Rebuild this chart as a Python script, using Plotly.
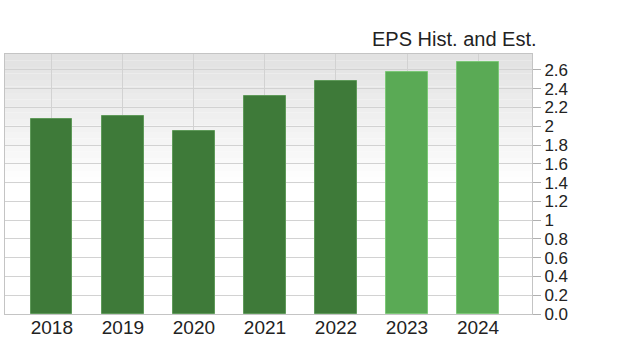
import plotly.graph_objects as go

years = ["2018", "2019", "2020", "2021", "2022", "2023", "2024"]
eps = [2.08, 2.11, 1.95, 2.32, 2.48, 2.58, 2.69]
kind = ["hist", "hist", "hist", "hist", "hist", "est", "est"]
ytick_vals = [0, 0.2, 0.4, 0.6, 0.8, 1.0, 1.2, 1.4, 1.6, 1.8, 2.0, 2.2, 2.4, 2.6]
ytick_text = ["0.0", "0.2", "0.4", "0.6", "0.8", "1", "1.2", "1.4", "1.6", "1.8", "2", "2.2", "2.4", "2.6"]
title_text = "EPS Hist. and Est."

fill_col = {"hist": "#3e7a39", "est": "#5aaa55"}
edge_col = {"hist": "#5f9a5a", "est": "#7cc877"}

fig = go.Figure()
fig.add_trace(go.Bar(
    x=list(range(len(years))), y=eps,
    width=0.58,
    marker=dict(color=[fill_col[k] for k in kind],
                line=dict(color=[edge_col[k] for k in kind], width=1)),
    hoverinfo="skip",
))

# vertical gradient background (light grey at top -> white by ~45% down)
n = 40
shapes = []
for i in range(n):
    t = (i / (n - 1) - 0.5) / 0.5
    t = max(0.0, t)
    v = int(round(255 - (255 - 226) * t))
    shapes.append(dict(type="rect", xref="paper", yref="paper",
                       x0=0, x1=1, y0=i / n, y1=(i + 1) / n,
                       fillcolor=f"rgb({v},{v},{v})", line=dict(width=0),
                       layer="below"))

font = "Liberation Sans, Arial, sans-serif"
fig.update_layout(
    width=620, height=357,
    margin=dict(l=5, r=88, t=54, b=43),
    paper_bgcolor="white", plot_bgcolor="white",
    showlegend=False,
    shapes=shapes,
    bargap=0,
    font=dict(family=font, size=19, color="#222222"),
    annotations=[dict(text=title_text, xref="paper", yref="paper",
                      x=1.013, y=1.058, xanchor="right", yanchor="middle",
                      showarrow=False, font=dict(size=20, color="#222222"))],
    xaxis=dict(range=[-0.66, 6.76], tickvals=list(range(len(years))), ticktext=years,
               showgrid=True, gridcolor="#d2d2d2", gridwidth=1,
               showline=True, mirror=True, linecolor="#c4c4c4", linewidth=1,
               ticks="", ticklabelstandoff=-4, zeroline=False, fixedrange=True),
    yaxis=dict(range=[0, 2.77], side="right", tickvals=ytick_vals, ticktext=ytick_text,
               tickfont=dict(size=17),
               showgrid=True, gridcolor="#d2d2d2", gridwidth=1,
               showline=True, mirror=True, linecolor="#c4c4c4", linewidth=1,
               ticks="outside", ticklen=8, tickcolor="#b0b0b0",
               zeroline=False, fixedrange=True),
)

fig.write_html("out.html", config={"displayModeBar": False},
               post_script="document.body.style.margin='0';")
